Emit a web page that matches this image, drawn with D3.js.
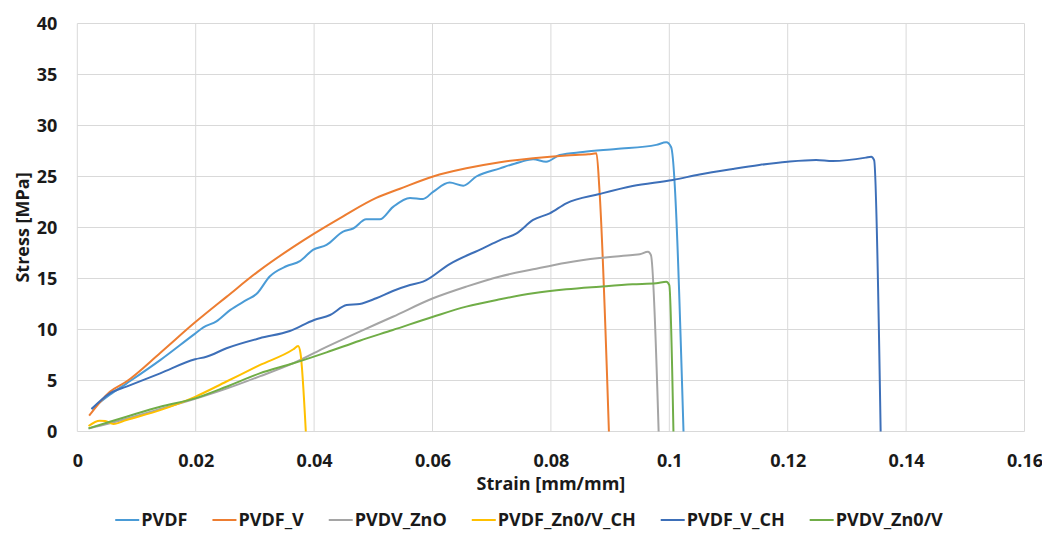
<!DOCTYPE html>
<html lang="en">
    <head>
        <meta charset="utf-8"/>
        <script src="https://d3js.org/d3.v7.min.js"></script>
        <style>
            body { margin: 0; background: #fff; }
            text { font-family: "Open Sans", "Noto Sans", sans-serif; font-weight: bold; fill: #1a1a1a; }
        </style>
    </head>
    <body>
        <div id="chart"></div>
    </body>
    <script>
        // stress-strain curves, values as [strain, stress]
        var pvdf = [[0.0024,2.2],[0.0055,3.6],[0.0083,4.7],[0.014,7.0],[0.0199,9.6],[0.0213,10.2],[0.0235,10.8],[0.0258,11.9],
            [0.0286,12.9],[0.0303,13.5],[0.0325,15.2],[0.0353,16.2],[0.0376,16.7],[0.0398,17.8],[0.0421,18.3],[0.0449,19.6],
            [0.0466,19.9],[0.0488,20.8],[0.0511,20.8],[0.0533,22.0],[0.0562,22.9],[0.0584,22.8],[0.0601,23.5],[0.0629,24.4],
            [0.0652,24.1],[0.0674,25.0],[0.0714,25.8],[0.0747,26.4],[0.077,26.7],[0.0792,26.45],[0.0815,27.1],[0.0854,27.4],
            [0.091,27.7],[0.0978,28.1],[0.0995,28.35],[0.1003,27.9],[0.1024,0]];
        var pvdfV = [[0.002,1.55],[0.0055,3.9],[0.0083,4.9],[0.014,7.7],[0.0199,10.7],[0.0252,13.2],[0.0308,15.8],[0.0365,18.1],
            [0.04,19.4],[0.0449,21.1],[0.0505,22.9],[0.0545,23.8],[0.0601,25.0],[0.0657,25.8],[0.0714,26.4],[0.077,26.8],
            [0.0826,27.07],[0.0863,27.17],[0.0877,27.27],[0.0882,23.7],[0.0898,0]];
        var pvdvZnO = [[0.0019,0.3],[0.0055,0.8],[0.014,2.2],[0.0199,3.2],[0.0252,4.2],[0.0308,5.4],[0.0365,6.7],[0.0421,8.3],
            [0.0477,9.8],[0.0533,11.25],[0.0601,13.06],[0.0657,14.2],[0.0714,15.2],[0.077,15.9],[0.0826,16.55],[0.0882,17.0],
            [0.0938,17.3],[0.095,17.37],[0.0964,17.63],[0.0969,17.3],[0.0982,0]];
        var pvdfZnVCH = [[0.0019,0.54],[0.0038,1.06],[0.0047,1.03],[0.0061,0.74],[0.0083,1.13],[0.014,2.1],[0.0199,3.4],
            [0.0252,4.9],[0.0308,6.5],[0.0365,8.06],[0.0373,8.38],[0.0377,7.67],[0.0386,0]];
        var pvdfVCH = [[0.0024,2.2],[0.0055,3.74],[0.0083,4.4],[0.014,5.7],[0.0199,7.08],[0.0218,7.33],[0.0252,8.16],
            [0.0308,9.14],[0.0359,9.85],[0.04,10.93],[0.0427,11.42],[0.0455,12.4],[0.0477,12.5],[0.0505,13.06],[0.0533,13.77],
            [0.0562,14.36],[0.0584,14.69],[0.0629,16.42],[0.0685,17.96],[0.0714,18.77],[0.0742,19.43],[0.077,20.74],
            [0.0798,21.39],[0.0826,22.37],[0.0882,23.28],[0.0938,24.07],[0.1006,24.66],[0.1051,25.2],[0.1107,25.74],
            [0.1152,26.13],[0.12,26.45],[0.1248,26.62],[0.1276,26.52],[0.1332,26.85],[0.1341,26.94],[0.1346,26.6],[0.1357,0]];
        var pvdvZnV = [[0.0019,0.31],[0.0055,0.96],[0.0083,1.45],[0.014,2.43],[0.0199,3.25],[0.0252,4.39],[0.0308,5.7],
            [0.0365,6.69],[0.0421,7.76],[0.0477,8.9],[0.0533,9.95],[0.0601,11.25],[0.0657,12.24],[0.0714,12.96],[0.077,13.55],
            [0.0826,13.94],[0.0882,14.2],[0.0938,14.43],[0.0978,14.53],[0.0995,14.69],[0.1,14.36],[0.1007,0]];

        var seriesNames = ["PVDF", "PVDF_V", "PVDV_ZnO", "PVDF_Zn0/V_CH", "PVDF_V_CH", "PVDV_Zn0/V"];
        var seriesData = [pvdf, pvdfV, pvdvZnO, pvdfZnVCH, pvdfVCH, pvdvZnV];
        var colors = ["#4a9bd6", "#ed7d31", "#a5a5a5", "#ffc000", "#3d6fb8", "#70ad47"];
        var xTicks = [0, 0.02, 0.04, 0.06, 0.08, 0.1, 0.12, 0.14, 0.16];
        var yTicks = [0, 5, 10, 15, 20, 25, 30, 35, 40];

        var W = 1042, H = 533;
        var margin = {top: 23.5, right: 17.5, bottom: 101.5, left: 77.3};
        var width = W - margin.left - margin.right;
        var height = H - margin.top - margin.bottom;

        var svg = d3.select("#chart")
            .append("svg")
                .attr("width", W)
                .attr("height", H);
        var g = svg.append("g")
            .attr("transform", "translate(" + margin.left + "," + margin.top + ")");

        var x = d3.scaleLinear().domain([0, 0.16]).range([0, width]);
        var y = d3.scaleLinear().domain([0, 40]).range([height, 0]);

        // grid
        g.append("g")
            .selectAll("line")
            .data(yTicks)
            .join("line")
                .attr("x1", 0).attr("x2", width)
                .attr("y1", function (d) { return y(d); })
                .attr("y2", function (d) { return y(d); })
                .attr("stroke", "#d9d9d9");
        g.append("g")
            .selectAll("line")
            .data(xTicks)
            .join("line")
                .attr("y1", 0).attr("y2", height)
                .attr("x1", function (d) { return x(d); })
                .attr("x2", function (d) { return x(d); })
                .attr("stroke", "#d9d9d9");

        // axes (labels only)
        var xAxis = g.append("g")
            .attr("transform", "translate(0," + height + ")")
            .call(d3.axisBottom(x).tickValues(xTicks).tickFormat(function (d) { return d; }).tickSize(0).tickPadding(23));
        var yAxis = g.append("g")
            .call(d3.axisLeft(y).tickValues(yTicks).tickSize(0).tickPadding(20));
        [xAxis, yAxis].forEach(function (a) {
            a.select(".domain").remove();
            a.selectAll("text").attr("font-size", 18).attr("font-family", null).attr("fill", "#1a1a1a");
        });

        // curves
        var line = d3.line()
            .curve(d3.curveMonotoneX)
            .x(function (d) { return x(d[0]); })
            .y(function (d) { return y(d[1]); });
        g.selectAll(".curve")
            .data(seriesData)
            .join("path")
                .attr("class", "curve")
                .attr("d", line)
                .attr("fill", "none")
                .attr("stroke-width", 2)
                .attr("stroke-linejoin", "round")
                .attr("stroke", function (d, i) { return colors[i]; });

        // axis titles
        svg.append("text")
            .attr("x", margin.left + width / 2)
            .attr("y", 490)
            .attr("text-anchor", "middle")
            .attr("font-size", 18)
            .text("Strain [mm/mm]");
        svg.append("text")
            .attr("transform", "translate(29," + (margin.top + height / 2) + ") rotate(-90)")
            .attr("text-anchor", "middle")
            .attr("font-size", 18)
            .text("Stress [MPa]");

        // legend
        var legend = svg.append("g");
        var pos = 0;
        seriesNames.forEach(function (name, i) {
            var item = legend.append("g").attr("transform", "translate(" + pos + ",0)");
            item.append("line")
                .attr("x1", 0).attr("x2", 24)
                .attr("y1", -6).attr("y2", -6)
                .attr("stroke", colors[i]).attr("stroke-width", 2);
            var t = item.append("text")
                .attr("x", 26)
                .attr("font-size", 18)
                .text(name);
            pos += 26 + t.node().getComputedTextLength() + 25;
        });
        pos -= 25;
        legend.attr("transform", "translate(" + (529 - pos / 2) + ",526)");
    </script>
</html>
